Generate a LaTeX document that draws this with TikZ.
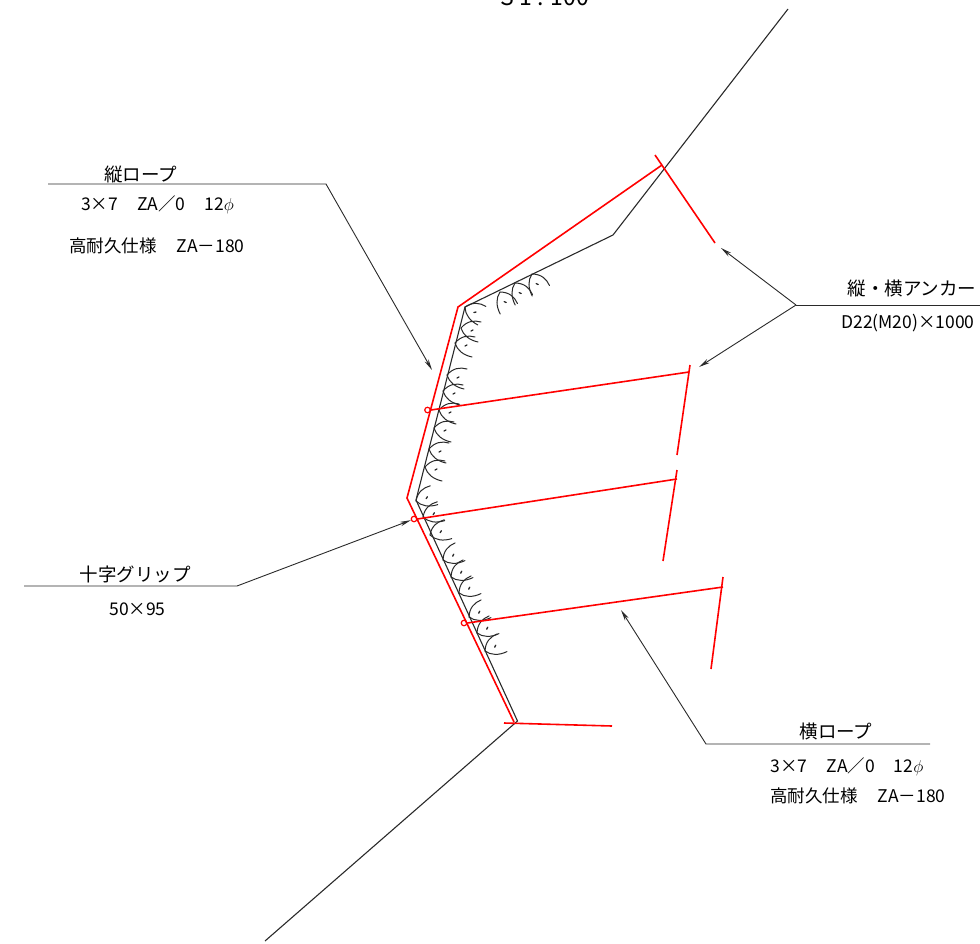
\documentclass[tikz,border=0pt]{standalone}
\usepackage{fontspec}
\setmainfont{Noto Sans CJK JP}
\usetikzlibrary{arrows.meta}
\definecolor{ink}{HTML}{2A2A2A}
\tikzset{
  ground/.style={draw=ink,line width=1.1pt,line join=miter},
  rope/.style={draw=red,line width=1.6pt,line join=miter},
  leader/.style={draw=ink,line width=0.9pt},
  tip/.style={leader,-{Stealth[length=11pt,width=4.5pt]}},
  grip/.style={draw=red,line width=1.2pt,circle,inner sep=0pt,minimum size=5.5pt},
  head/.style={font=\fontsize{18.5}{20}\selectfont,inner sep=0pt,text=black},
  spec/.style={font=\fontsize{17.5}{19}\selectfont,inner sep=0pt,text=black},
  lens/.style={draw=ink,line width=1pt,line cap=round},
}
\newcommand{\scallop}[3]{%
  \begin{scope}[shift={(#1,#2)},rotate=-#3]
    \draw[lens] (0,0) .. controls (6,-7) and (13,-8) .. (20,-6);
    \draw[lens] (0,0) .. controls (2,7) and (8,12) .. (17,14);
    \draw[lens,line width=1.3pt] (10,3) -- (12,2);
  \end{scope}}
\begin{document}
\begin{tikzpicture}[x=1pt,y=-1pt]
\useasboundingbox (0,0) rectangle (980,943);
\clip (0,0) rectangle (980,943);
% ground profile
\coordinate (g0) at (265,941);
\coordinate (g1) at (517.5,721);
\coordinate (g2) at (416,500);
\coordinate (g3) at (465,307);
\coordinate (g4) at (613,235);
\coordinate (g5) at (788,9);
\draw[ground] (g0) -- (g1) -- (g2) -- (g3) -- (g4) -- (g5);
% scallops
\scallop{500}{292}{50}
\scallop{515}{283}{50}
\scallop{532}{274}{50}
\scallop{465}{307}{15}
\scallop{461}{328}{0}
\scallop{455}{343}{0}
\scallop{447}{375}{0}
\scallop{443}{391}{0}
\scallop{439}{410}{0}
\scallop{434}{428}{0}
\scallop{429}{449}{0}
\scallop{425}{467}{0}
\scallop{416}{501}{-30}
\scallop{423}{517}{-30}
\scallop{430}{535}{-30}
\scallop{443}{560}{-38}
\scallop{451}{577}{-38}
\scallop{459}{593}{-38}
\scallop{469}{617}{-38}
\scallop{477}{633}{-38}
\scallop{485}{651}{-38}
% red ropes
\coordinate (r0) at (514,722);
\coordinate (r1) at (407,498);
\coordinate (r2) at (458,307);
\coordinate (r3) at (662,165);
\draw[rope] (r0) -- (r1) -- (r2) -- (r3);
\coordinate (a1s) at (655,155); \coordinate (a1e) at (715,243);
\draw[rope] (a1s) -- (a1e);
\node[grip] (c1) at (427.5,410) {};
\node[grip] (c2) at (414,519) {};
\node[grip] (c3) at (464,623) {};
\coordinate (h1) at (689,372);
\coordinate (h2) at (677,479);
\coordinate (h3) at (723,587);
\draw[rope] (c1.east) -- (h1);
\draw[rope] (c2.east) -- (h2);
\draw[rope] (c3.east) -- (h3);
\coordinate (a2s) at (690,365); \coordinate (a2e) at (677,455);
\coordinate (a3s) at (677,470); \coordinate (a3e) at (663,561);
\coordinate (a4s) at (723,577); \coordinate (a4e) at (711,669);
\draw[rope] (a2s) -- (a2e);
\draw[rope] (a3s) -- (a3e);
\draw[rope] (a4s) -- (a4e);
\coordinate (b1) at (504,723); \coordinate (b2) at (612,726);
\draw[rope] (b1) -- (b2);
% leaders
\coordinate (l1a) at (48,184); \coordinate (l1b) at (326,184); \coordinate (l1c) at (432,370);
\draw[tip] (l1a) -- (l1b) -- (l1c);
\coordinate (l2a) at (980,305); \coordinate (l2b) at (796,305);
\coordinate (l2c) at (721,248); \coordinate (l2d) at (699,367);
\draw[leader] (l2a) -- (l2b);
\draw[tip] (l2b) -- (l2c);
\draw[tip] (l2b) -- (l2d);
\coordinate (l3a) at (24,586); \coordinate (l3b) at (237,586);
\draw[tip] (l3a) -- (l3b) -- (c2);
\coordinate (l4a) at (930,744); \coordinate (l4b) at (706,744); \coordinate (l4c) at (621,610);
\draw[tip] (l4a) -- (l4b) -- (l4c);
% text
\node[font=\fontsize{23}{25}\selectfont,anchor=base,inner sep=0pt] (scale) at (545,5) {S 1 : 100};
\node[head] (t1) at (140.5,174) {縦ロープ};
\node[spec] (t2) at (157.5,205) {3×7\hspace{19pt}ZA／0\hspace{19pt}12$\phi$};
\node[spec] (t3) at (157,246) {高耐久仕様\hspace{20pt}ZA－180};
\node[head] (t4) at (912,288) {縦・横アンカー};
\node[spec] (t5) at (908,323) {D22(M20)×1000};
\node[head] (t6) at (135,574) {十字グリップ};
\node[spec] (t7) at (137.5,609) {50×95};
\node[head] (t8) at (836,731) {横ロープ};
\node[spec] (t9) at (847,767) {3×7\hspace{19pt}ZA／0\hspace{19pt}12$\phi$};
\node[spec] (t10) at (858,796) {高耐久仕様\hspace{20pt}ZA－180};
\end{tikzpicture}
\end{document}
